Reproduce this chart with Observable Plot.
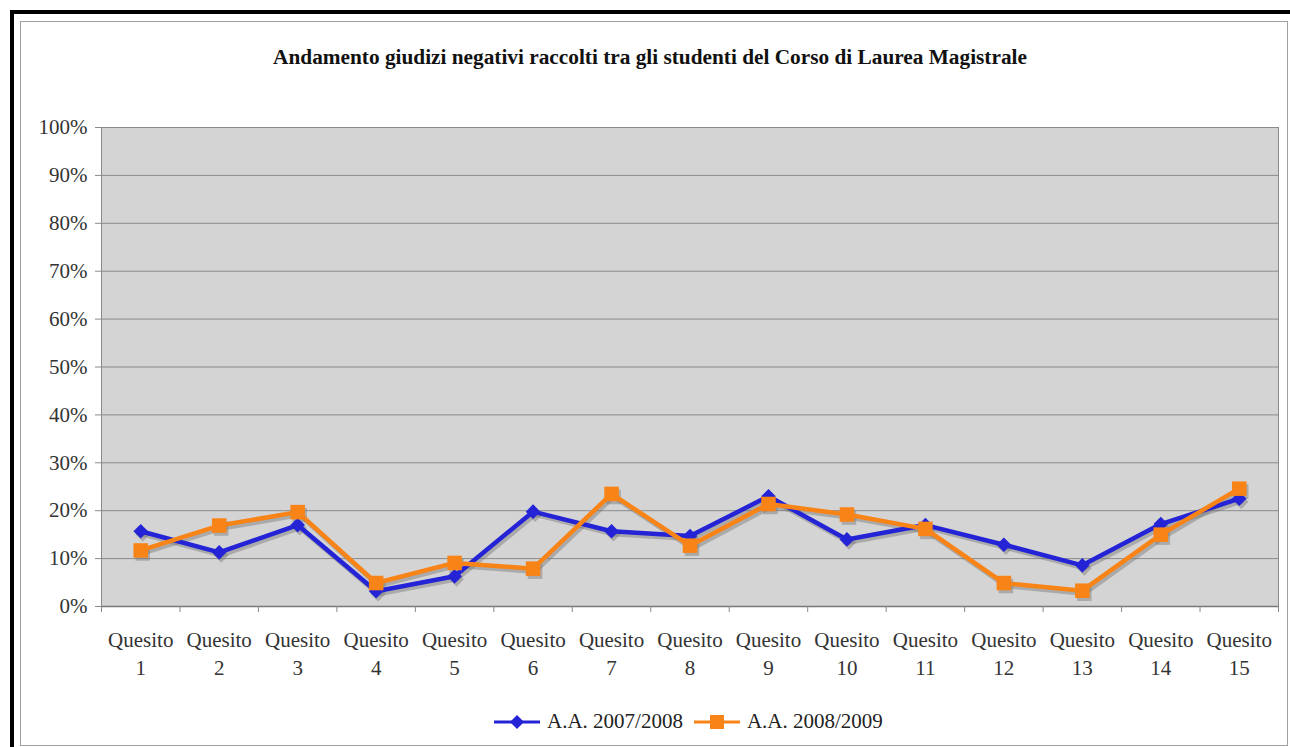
<!DOCTYPE html>
<html><head><meta charset="utf-8">
<script src="https://cdn.jsdelivr.net/npm/d3@7"></script>
<script src="https://cdn.jsdelivr.net/npm/@observablehq/plot@0.6"></script>
<style>
body{margin:0;background:#fff;width:1290px;height:747px;overflow:hidden;position:relative;font-family:"Liberation Serif","DejaVu Serif",serif;}
#outer{position:absolute;left:10px;top:10px;width:1300px;height:760px;border-left:4px solid #000;border-top:4px solid #000;box-sizing:border-box;}
#frame{position:absolute;left:20px;top:21px;width:1266px;height:723px;border:1px solid #a0a0a0;}
#title{position:absolute;left:16px;width:1268px;top:45px;text-align:center;font-weight:bold;font-size:21.3px;color:#111;}
#chart{position:absolute;left:0;top:0;}
#legend{position:absolute;top:709px;left:494px;display:flex;align-items:center;font-size:21px;color:#222;white-space:nowrap;}
#legend .item{display:flex;align-items:center;margin-right:11px;}
#legend svg{margin-right:7px;}
</style>
</head><body>
<div id="outer"></div>
<div id="frame"></div>
<div id="title">Andamento giudizi negativi raccolti tra gli studenti del Corso di Laurea Magistrale</div>
<div id="chart"></div>
<div id="legend"></div>
<script>
const questions = [1,2,3,4,5,6,7,8,9,10,11,12,13,14,15];
const tickLabels = ["Quesito\n1","Quesito\n2","Quesito\n3","Quesito\n4","Quesito\n5","Quesito\n6","Quesito\n7","Quesito\n8","Quesito\n9","Quesito\n10","Quesito\n11","Quesito\n12","Quesito\n13","Quesito\n14","Quesito\n15"];
const seriesNames = ["A.A. 2007/2008","A.A. 2008/2009"];
const seriesColors = ["#2424d6","#f88418"];
const values2007 = [0.157,0.113,0.170,0.032,0.063,0.198,0.157,0.147,0.230,0.140,0.170,0.129,0.086,0.172,0.225];
const values2008 = [0.117,0.169,0.197,0.049,0.091,0.079,0.235,0.127,0.214,0.192,0.162,0.049,0.033,0.150,0.246];
const yTicks = [0,0.1,0.2,0.3,0.4,0.5,0.6,0.7,0.8,0.9,1];
const sepTicks = [0.5,1.5,2.5,3.5,4.5,5.5,6.5,7.5,8.5,9.5,10.5,11.5,12.5,13.5,14.5,15.5];

const data = [];
questions.forEach((q,i)=>{
  data.push({q, v: values2007[i], s: seriesNames[0]});
});
questions.forEach((q,i)=>{
  data.push({q, v: values2008[i], s: seriesNames[1]});
});
const d1 = data.filter(d=>d.s===seriesNames[0]);
const d2 = data.filter(d=>d.s===seriesNames[1]);

const chart = Plot.plot({
  width:1290, height:700,
  marginLeft:101, marginRight:12, marginTop:127, marginBottom:94,
  x:{domain:[0.5,15.5], axis:null, label:null},
  y:{domain:[0,1], axis:null, label:null},
  color:{domain:seriesNames, range:seriesColors},
  style:{background:"transparent", fontFamily:'"Liberation Serif","DejaVu Serif",serif', fontSize:"21px", color:"#333", overflow:"visible"},
  marks:[
    Plot.frame({fill:"#d4d4d4", stroke:"none"}),
    Plot.gridY(yTicks, {stroke:"#8a8a8a", strokeOpacity:1}),
    Plot.frame({stroke:"#8a8a8a"}),
    Plot.ruleY([0], {stroke:"#777", strokeWidth:1.5}),
    Plot.axisY(yTicks, {label:null, tickFormat:d3.format(".0%"), tickSize:6, tickPadding:8, stroke:"#8a8a8a", fontSize:21}),
    Plot.axisX(sepTicks, {label:null, tickSize:6, tickFormat:()=> "", stroke:"#8a8a8a"}),
    Plot.axisX(questions, {label:null, tickSize:0, tickPadding:21, tickFormat:q=>tickLabels[q-1], fontSize:21, lineHeight:1.32}),
    // shadows
    Plot.line(data, {x:"q", y:"v", z:"s", stroke:"#777", strokeOpacity:0.45, strokeWidth:4.5, dx:2, dy:3}),
    Plot.dot(d1, {x:"q", y:"v", symbol:"diamond2", r:6.6, fill:"#777", fillOpacity:0.45, dx:2, dy:3}),
    Plot.dot(d2, {x:"q", y:"v", symbol:"square", r:8.2, fill:"#777", fillOpacity:0.45, dx:2, dy:3}),
    // lines
    Plot.line(d1, {x:"q", y:"v", stroke:"s", strokeWidth:4.5}),
    Plot.dot(d1, {x:"q", y:"v", symbol:"diamond2", r:6.6, fill:"s"}),
    Plot.line(d2, {x:"q", y:"v", stroke:"s", strokeWidth:4.5}),
    Plot.dot(d2, {x:"q", y:"v", symbol:"square", r:8.2, fill:"s"})
  ]
});
document.getElementById("chart").appendChild(chart);

const legend = document.getElementById("legend");
seriesNames.forEach((name,i)=>{
  const item = document.createElement("div");
  item.className = "item";
  const marker = i===0
    ? `<path d="M23,1 L30,8 L23,15 L16,8 Z" fill="${seriesColors[i]}"/>`
    : `<rect x="16" y="1" width="14" height="14" fill="${seriesColors[i]}"/>`;
  item.innerHTML = `<svg width="46" height="16"><line x1="0" y1="8" x2="46" y2="8" stroke="${seriesColors[i]}" stroke-width="3"/>${marker}</svg><span>${name}</span>`;
  legend.appendChild(item);
});
</script>
</body></html>
